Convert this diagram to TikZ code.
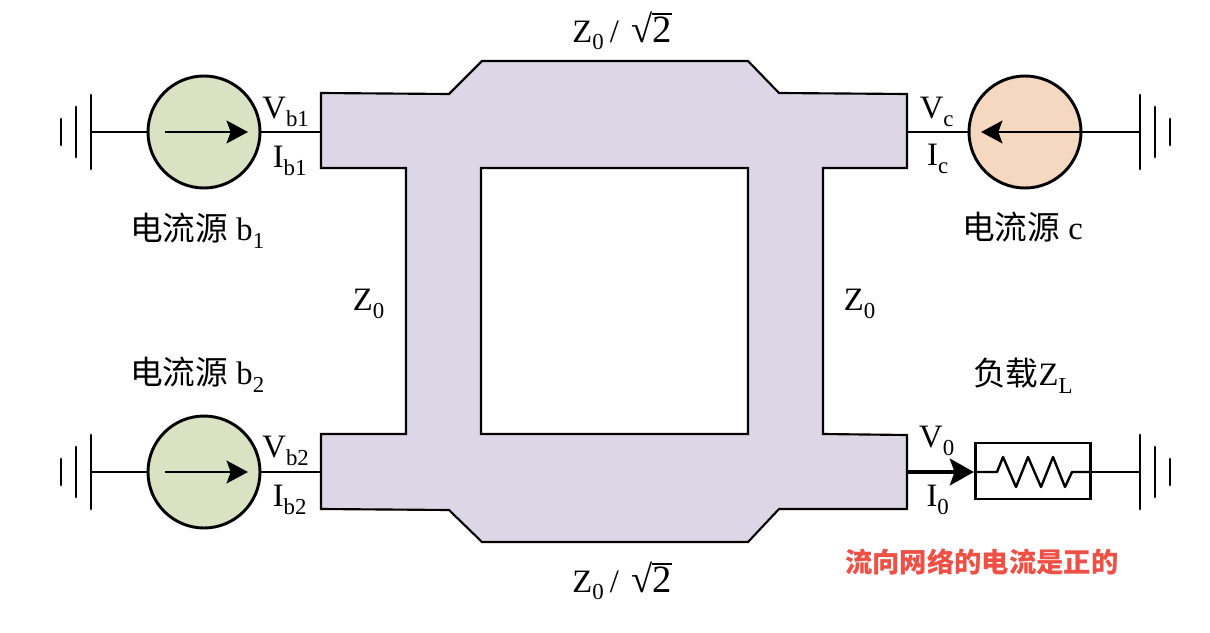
\documentclass[tikz,border=0pt]{standalone}
\usepackage{fontspec}
\setmainfont{Liberation Serif}
\newfontfamily\cjk{Noto Sans CJK SC}
\usetikzlibrary{arrows.meta}
\definecolor{net}{HTML}{DCD7E6}
\definecolor{srcg}{HTML}{D9E2C3}
\definecolor{srco}{HTML}{F5D8C0}
\definecolor{redtxt}{HTML}{EE5045}
\newcommand{\Sb}[1]{\textsubscript{\raisebox{-0.25ex}{#1}}}
\newcommand{\RtTwo}{{\fontsize{29}{32}\selectfont √\rlap{\rule[0.72em]{0.5em}{0.05em}}2}}
\tikzset{
  x=0.75pt,y=-0.75pt,
  wire/.style={line width=2.2pt,black},
  gnd/.style={line width=2.2pt,black,line cap=round},
  src/.style={circle,draw=black,line width=2.2pt,minimum size=84pt,inner sep=0pt},
  lab/.style={inner sep=0pt,font=\fontsize{24.5}{28}\selectfont,text=black},
  cjl/.style={inner sep=0pt,font=\fontsize{24.5}{28}\selectfont},
  flow/.style={line width=2.2pt,-{Stealth[length=16pt,width=17pt,inset=3pt]}},
}
\newcommand{\groundL}[2]{% x of large bar, y
  \draw[gnd] (#1,#2-37) -- (#1,#2+37);
  \draw[gnd] (#1-15,#2-25) -- (#1-15,#2+25);
  \draw[gnd] (#1-30,#2-13) -- (#1-30,#2+13);
}
\newcommand{\groundR}[2]{%
  \draw[gnd] (#1,#2-37) -- (#1,#2+37);
  \draw[gnd] (#1+15,#2-25) -- (#1+15,#2+25);
  \draw[gnd] (#1+30,#2-13) -- (#1+30,#2+13);
}
\begin{document}
\begin{tikzpicture}
\useasboundingbox (0,0) rectangle (1210,632);
% network
\draw[line width=1.6pt,fill=net,even odd rule,line join=miter]
 (321,93) -- (449,94) -- (482,61) -- (748,61) -- (779,93) -- (907,94) -- (907,168) -- (823,168)
 -- (823,434) -- (907,435) -- (907,509) -- (779,509) -- (748,542) -- (482,542) -- (449,510)
 -- (321,509) -- (321,434) -- (406,434) -- (406,168) -- (321,168) -- cycle
 (481,168) -- (748,168) -- (748,434) -- (481,434) -- cycle;
\coordinate (pb1) at (321,132);
\coordinate (pb2) at (321,472);
\coordinate (pc) at (907,132);
\coordinate (p0) at (907,472);
% sources
\node[src,fill=srcg] (sb1) at (204,132) {};
\node[src,fill=srcg] (sb2) at (204,472) {};
\node[src,fill=srco] (sc) at (1025,132) {};
% grounds
\coordinate (g1) at (91,132);
\coordinate (g2) at (91,472);
\coordinate (g3) at (1140,132);
\coordinate (g4) at (1140,472);
\groundL{91}{132}
\groundL{91}{472}
\groundR{1140}{132}
\groundR{1140}{472}
% wires
\draw[wire] (g1) -- (sb1.west);
\draw[wire] (g2) -- (sb2.west);
\draw[wire] (sb1.east) -- (pb1);
\draw[wire] (sb2.east) -- (pb2);
\draw[wire] (pc) -- (sc.west);
\draw[wire] (sc.east) -- (g3);
% arrows inside sources
\coordinate (a1s) at (165,132); \coordinate (a1e) at (248,132);
\coordinate (a2s) at (165,472); \coordinate (a2e) at (248,472);
\coordinate (a3s) at (1081,132); \coordinate (a3e) at (981,132);
\draw[flow] (a1s) -- (a1e);
\draw[flow] (a2s) -- (a2e);
\draw[flow] (a3s) -- (a3e);
% load
\node[draw=black,line width=2.2pt,minimum width=86.5pt,minimum height=42pt,inner sep=0pt] (load) at (1033,471) {};
\coordinate (lw) at (load.west |- p0);
\coordinate (le) at (load.east |- p0);
\draw[line width=1.8pt,line join=round] (lw) -- (997,472) -- (1003,457) -- (1016,487) -- (1028,457) -- (1041,487) -- (1053,457) -- (1065,487) -- (1072,472) -- (le);
\draw[wire] (le) -- (g4);
\draw[line width=3pt,-{Stealth[length=18pt,width=20pt,inset=3.5pt]}] (p0) -- (lw);
% labels
\node[lab] (vb1) at (286,112) {V\Sb{b1}};
\node[lab] (ib1) at (290,161) {I\Sb{b1}};
\node[lab] (vb2) at (286,451) {V\Sb{b2}};
\node[lab] (ib2) at (290,500) {I\Sb{b2}};
\node[lab] (vc) at (937,112) {V\Sb{c}};
\node[lab] (ic) at (938,159) {I\Sb{c}};
\node[lab] (v0) at (937,441) {V\Sb{0}};
\node[lab] (i0) at (938,500) {I\Sb{0}};
\node[lab] (z1) at (369,304) {Z\Sb{0}};
\node[lab] (z2) at (860,304) {Z\Sb{0}};
\node[lab] (zt) at (622,31) {Z\Sb{0}\,/\kern9pt\RtTwo};
\node[lab] (zb) at (622,581) {Z\Sb{0}\,/\kern9pt\RtTwo};
\node[cjl,anchor=west] (t1) at (130,231) {{\cjk 电流源} b\Sb{1}};
\node[cjl,anchor=west] (t2) at (130,375) {{\cjk 电流源} b\Sb{2}};
\node[cjl,anchor=west] (t3) at (962,227) {{\cjk 电流源} c};
\node[cjl,anchor=west] (t4) at (973,376) {{\cjk 负载}Z\Sb{L}};
\node[inner sep=0pt,anchor=west,text=redtxt,font=\fontsize{20.5}{24}\selectfont\cjk\bfseries] (t5) at (845,562) {流向网络的电流是正的};
\end{tikzpicture}
\end{document}
